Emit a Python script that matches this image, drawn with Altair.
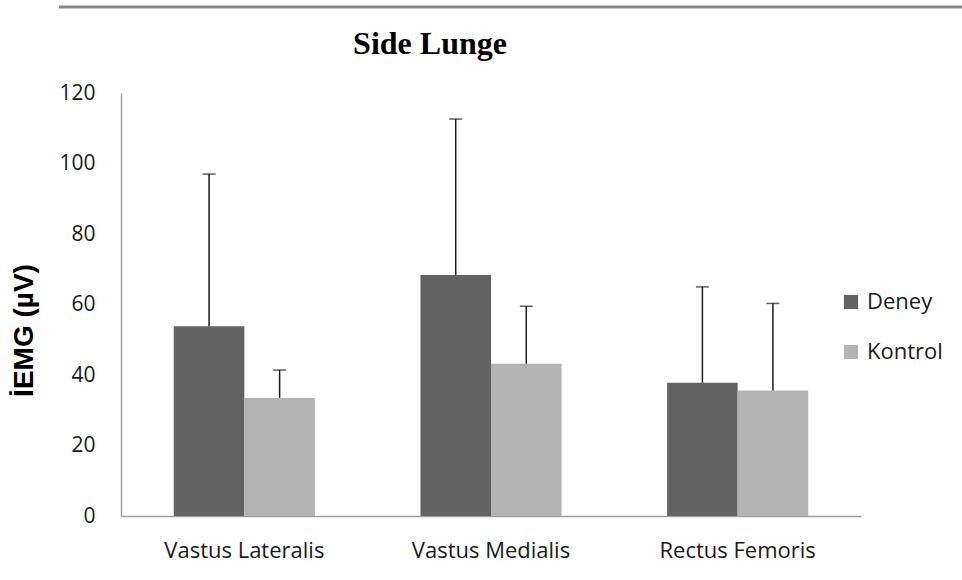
import altair as alt
import pandas as pd

muscles = ["Vastus Lateralis", "Vastus Medialis", "Rectus Femoris"]
groups = ["Deney", "Kontrol"]
deney_mean = [53.8, 68.4, 37.8]
deney_upper = [97.0, 112.6, 65.0]
kontrol_mean = [33.5, 43.2, 35.6]
kontrol_upper = [41.4, 59.5, 60.3]
colors = ["#626262", "#b3b3b3"]
chart_title = "Side Lunge"
y_title = "İEMG (µV)"

rows = []
for i, m in enumerate(muscles):
    rows.append({"muscle": m, "group": "Deney", "mean": deney_mean[i], "upper": deney_upper[i]})
    rows.append({"muscle": m, "group": "Kontrol", "mean": kontrol_mean[i], "upper": kontrol_upper[i]})
df = pd.DataFrame(rows)

x_enc = alt.X("muscle:N", sort=muscles, title=None,
              scale=alt.Scale(paddingInner=0.428, paddingOuter=0.214),
              axis=alt.Axis(labelAngle=0, labelFont="Open Sans", labelFontSize=22,
                            labelColor="#1a1a1a", ticks=False, tickSize=0, labelPadding=24,
                            domainColor="#a0a0a0", domainWidth=1.5, grid=False))
xo_enc = alt.XOffset("group:N", sort=groups, scale=alt.Scale(paddingInner=0, paddingOuter=0))
y_scale = alt.Scale(domain=[0, 120], nice=False)

bars = alt.Chart(df).mark_bar().encode(
    x=x_enc,
    xOffset=xo_enc,
    y=alt.Y("mean:Q", scale=y_scale, title=y_title,
            axis=alt.Axis(values=[0, 20, 40, 60, 80, 100, 120], labelFont="Open Sans",
                          labelFontSize=21, labelColor="#1a1a1a", ticks=False, tickSize=0,
                          labelPadding=26, domainColor="#a0a0a0", domainWidth=1.5, grid=False,
                          titleFont="Liberation Sans", titleFontSize=28, titleFontWeight="bold",
                          titleColor="#000000", titleAngle=-90, titleX=-97, titleY=237,
                          titleAlign="center", titleBaseline="middle")),
    color=alt.Color("group:N", sort=groups, scale=alt.Scale(domain=groups, range=colors),
                    legend=alt.Legend(title=None, orient="none", legendX=719, legendY=198,
                                      symbolType="square", symbolSize=200, symbolStrokeWidth=0,
                                      labelFont="Open Sans", labelFontSize=22, labelColor="#1a1a1a",
                                      rowPadding=28, labelOffset=5)),
)

err = alt.Chart(df).mark_rule(color="#1a1a1a", strokeWidth=1.5).encode(
    x=alt.X("muscle:N", sort=muscles),
    xOffset=xo_enc,
    y=alt.Y("mean:Q", scale=y_scale),
    y2="upper:Q",
)

caps = alt.Chart(df).mark_tick(color="#1a1a1a", thickness=1.5, size=13, orient="horizontal").encode(
    x=alt.X("muscle:N", sort=muscles),
    xOffset=xo_enc,
    y=alt.Y("upper:Q", scale=y_scale),
)

top_line = alt.Chart(pd.DataFrame({"v": [0]})).mark_rule(color="#888888", strokeWidth=3).encode(
    x=alt.value(-62), x2=alt.value(841), y=alt.value(-86)
)

title_txt = alt.Chart(pd.DataFrame({"t": [chart_title]})).mark_text(
    font="Liberation Serif", fontSize=32, fontWeight="bold", color="#000000",
    align="center", baseline="alphabetic"
).encode(text="t:N", x=alt.value(309), y=alt.value(-39))

chart = alt.layer(bars, err, caps, top_line, title_txt).properties(
    width=740, height=423,
    autosize=alt.AutoSizeParams(type="none"),
    padding={"left": 121, "top": 93, "right": 101, "bottom": 64},
).configure(background="white").configure_view(strokeWidth=0, stroke="transparent")

chart.save("out.html", embed_options={"renderer": "svg", "actions": False})
